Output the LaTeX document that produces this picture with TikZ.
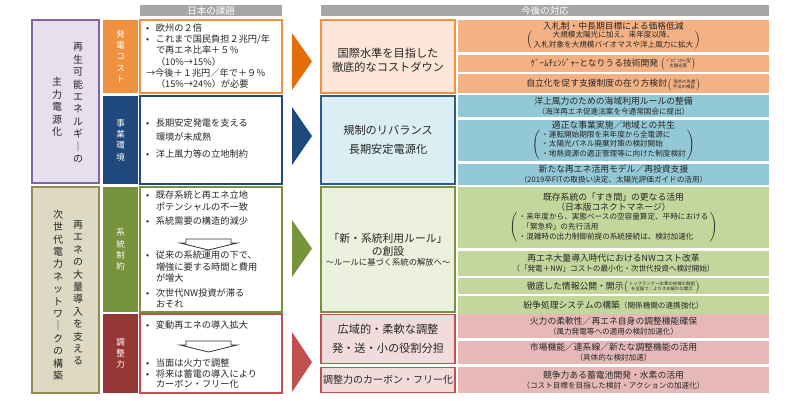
\documentclass[tikz,border=0pt]{standalone}
\usepackage{fontspec}
\setmainfont{Noto Sans CJK JP}
\usetikzlibrary{positioning}
\newcommand{\kakko}[2][l]{$\left(\begin{tabular}{@{\,}#1@{\,}}#2\end{tabular}\right)$}
\newcommand{\chuki}[1]{\raisebox{0.2ex}[0pt][0pt]{\fontsize{4.4}{4.8}\selectfont\renewcommand{\arraystretch}{0.9}\kakko[c]{#1}}}
\newcommand{\bulletpt}{\makebox[10pt][l]{•}}
\newcommand{\indentpt}{\hspace*{10pt}}
\begin{document}
\begin{tikzpicture}[x=1pt,y=-1pt]
    \definecolor{head-color}{HTML}{A6A6A6}
    \definecolor{shuryoku-color}{HTML}{8064A2}
    \definecolor{shuryoku-fill}{HTML}{E5E0EC}
    \definecolor{jisedai-color}{HTML}{948A54}
    \definecolor{jisedai-fill}{HTML}{DDD9C3}
    \definecolor{cost-color}{HTML}{F0913F}
    \definecolor{cost-arrow}{HTML}{E46C0A}
    \definecolor{cost-light}{HTML}{FCE6D8}
    \definecolor{cost-row}{HTML}{F4B183}
    \definecolor{kankyo-color}{HTML}{1F497D}
    \definecolor{kankyo-border}{HTML}{2E5B8E}
    \definecolor{kankyo-light}{HTML}{DAEEF3}
    \definecolor{kankyo-row}{HTML}{93C8D6}
    \definecolor{seiyaku-color}{HTML}{77933C}
    \definecolor{seiyaku-light}{HTML}{EBF1DE}
    \definecolor{seiyaku-row}{HTML}{C3D69B}
    \definecolor{chosei-color}{HTML}{953735}
    \definecolor{chosei-arrow}{HTML}{C0504D}
    \definecolor{chosei-light}{HTML}{F2DCDB}
    \definecolor{chosei-row}{HTML}{E6B9B8}
    \tikzstyle{every node}=[inner sep=0pt, outer sep=0pt, text=black!85, font=\fontsize{9}{11.3}\selectfont]
    \tikzstyle{header} = [anchor=north west, fill=head-color, text=white, minimum height=11, font=\fontsize{9.5}{11}\selectfont]
    \tikzstyle{theme} = [anchor=north west, draw, line width=1.2pt, minimum width=67]
    \tikzstyle{tate} = [align=center, font=\fontsize{10}{12.4}\selectfont]
    \tikzstyle{cat} = [anchor=north west, minimum width=35, text=white, align=center, font=\fontsize{8.5}{11.2}\selectfont]
    \tikzstyle{issue} = [anchor=north west, draw, line width=1.2pt, fill=white, minimum width=142]
    \tikzstyle{issuetext} = [anchor=north west, align=left, font=\fontsize{9.2}{11.3}\selectfont]
    \tikzstyle{down} = [draw=black!80, line width=0.8pt, fill=white]
    \tikzstyle{policy} = [anchor=north west, draw, line width=1.2pt, minimum width=134, align=center, font=\fontsize{11.2}{14}\selectfont]
    \tikzstyle{row} = [anchor=north west, minimum width=311, align=center, font=\fontsize{8.8}{10}\selectfont]
    \useasboundingbox (0,0) rectangle (800,400);

        \node (hdr-kadai) [header, minimum width=142] at (140,5) {日本の課題};
        \node (hdr-taiou) [header, minimum width=448] at (321,5) {今後の対応};

        \node (shuryoku) [theme, draw=shuryoku-color, fill=shuryoku-fill, minimum height=163] at (32,20) {};
        \node (shuryoku-a) [tate] at (78,103) {再\\生\\可\\能\\エ\\ネ\\ル\\ギ\\｜\\の};
        \node (shuryoku-b) [tate] at (57,107) {主\\力\\電\\源\\化};
        \node (jisedai) [theme, draw=jisedai-color, fill=jisedai-fill, minimum height=206] at (32,187) {};
        \node (jisedai-a) [tate] at (78,293) {再\\エ\\ネ\\の\\大\\量\\導\\入\\を\\支\\え\\る};
        \node (jisedai-b) [tate] at (58,295) {次\\世\\代\\電\\力\\ネ\\ッ\\ト\\ワ\\｜\\ク\\の\\構\\築};

        \node (cat-cost) [cat, fill=cost-color, minimum height=73] at (103,20) {発\\電\\コ\\ス\\ト};
        \node (cat-kankyo) [cat, fill=kankyo-color, minimum height=88] at (103,96) {事\\業\\環\\境};
        \node (cat-seiyaku) [cat, fill=seiyaku-color, minimum height=125] at (103,187) {系\\統\\制\\約};
        \node (cat-chosei) [cat, fill=chosei-color, minimum height=79] at (103,314) {調\\整\\力};

        \node (issue-cost) [issue, draw=cost-color, minimum height=73] at (140,20) {};
        \node (issue-cost-txt) [issuetext] at (146,23.5) {\bulletpt 欧州の２倍\\\bulletpt これまで国民負担２兆円/年\\\indentpt で再エネ比率＋５％\\\indentpt （10\%→15\%）\\→今後＋１兆円／年で＋９％\\\indentpt （15\%→24\%）が必要};
        \node (issue-kankyo) [issue, draw=kankyo-color, minimum height=88] at (140,96) {};
        \node (issue-kankyo-txt) [issuetext, font=\fontsize{9.2}{14}\selectfont] at (146,119) {\bulletpt 長期安定発電を支える\\\indentpt 環境が未成熟\\[3pt]\bulletpt 洋上風力等の立地制約};
        \node (issue-seiyaku) [issue, draw=seiyaku-color, minimum height=125] at (140,187) {};
        \node (issue-seiyaku-txt1) [issuetext, font=\fontsize{9.2}{12}\selectfont] at (146,191) {\bulletpt 既存系統と再エネ立地\\\indentpt ポテンシャルの不一致\\[2pt]\bulletpt 系統需要の構造的減少};
        \draw[down] (186,239) -- (231,239) -- (231,243) -- (237,243) -- (208.5,250) -- (180,243) -- (186,243) -- cycle;
        \node (issue-seiyaku-txt2) [issuetext] at (146,251) {\bulletpt 従来の系統運用の下で、\\\indentpt 増強に要する時間と費用\\\indentpt が増大\\[4pt]\bulletpt 次世代NW投資が滞る\\\indentpt おそれ};
        \node (issue-chosei) [issue, draw=chosei-arrow, minimum height=79] at (140,314) {};
        \node (issue-chosei-txt1) [issuetext] at (146,321) {\bulletpt 変動再エネの導入拡大};
        \draw[down] (186,341) -- (231,341) -- (231,345) -- (237,345) -- (208.5,352) -- (180,345) -- (186,345) -- cycle;
        \node (issue-chosei-txt2) [issuetext, font=\fontsize{9.2}{10.8}\selectfont] at (146,358.5) {\bulletpt 当面は火力で調整\\\bulletpt 将来は蓄電の導入により\\\indentpt カーボン・フリー化};

        \fill[cost-arrow] (292,33) -- (312,61.5) -- (292,90) -- cycle;
        \fill[kankyo-color] (292,107) -- (312,136) -- (292,165) -- cycle;
        \fill[seiyaku-color] (292,220) -- (312,248.5) -- (292,277) -- cycle;
        \fill[chosei-arrow] (292,332) -- (312,362) -- (292,392) -- cycle;

        \node (policy-cost) [policy, draw=cost-color, fill=cost-light, minimum height=73] at (321,20) {};
        \node (policy-cost-txt) [align=center, font=\fontsize{11.2}{14}\selectfont] at (388,60) {国際水準を目指した\\徹底的なコストダウン};
        \node (policy-kankyo) [policy, draw=kankyo-border, fill=kankyo-light, minimum height=88, font=\fontsize{11.2}{19}\selectfont] at (321,96) {規制のリバランス\\長期安定電源化};
        \node (policy-seiyaku) [policy, draw=seiyaku-color, fill=seiyaku-light, minimum height=125, font=\fontsize{10.8}{13}\selectfont] at (321,187) {「新・系統利用ルール」\\の創設\\[-3pt]{\fontsize{8.3}{10}\selectfont ～ルールに基づく系統の解放へ～}};
        \node (policy-chosei1) [policy, draw=chosei-arrow, fill=chosei-light, minimum height=49, font=\fontsize{11.2}{19}\selectfont] at (321,314.5) {広域的・柔軟な調整\\発・送・小の役割分担};
        \node (policy-chosei2) [policy, draw=chosei-arrow, fill=chosei-light, minimum height=25, font=\fontsize{10}{12}\selectfont] at (321,367.5) {調整力のカーボン・フリー化};

        \node (row-cost1) [row, fill=cost-row, minimum height=32] at (458,20) {入札制・中長期目標による価格低減\\{\fontsize{7.6}{9.3}\selectfont\kakko[c]{大規模太陽光に加え、来年度以降、\\入札対象を大規模バイオマスや洋上風力に拡大}}};
        \node (row-cost2) [row, fill=cost-row, minimum height=17, below=2.5pt of row-cost1] {ｹﾞｰﾑﾁｪﾝｼﾞｬｰとなりうる技術開発 \chuki{\ ﾍﾟﾛﾌﾞｽｶｲﾄ型\ \\太陽光等}};
        \node (row-cost3) [row, fill=cost-row, minimum height=19, below=2.5pt of row-cost2] {自立化を促す支援制度の在り方検討\chuki{\ 海外の先進\ \\手法の検証}};

        \node (row-kankyo1) [row, fill=kankyo-row, minimum height=22] at (458,95) {洋上風力のための海域利用ルールの整備\\{\fontsize{7.6}{9.3}\selectfont （海洋再エネ促進法案を今通常国会に提出）}};
        \node (row-kankyo2) [row, fill=kankyo-row, minimum height=41.5, below=2.5pt of row-kankyo1] {適正な事業実施／地域との共生\\{\fontsize{7.6}{9.6}\selectfont\kakko{・運転開始期限を来年度から全電源に\\・太陽光パネル廃棄対策の検討開始\\・地熱資源の適正管理等に向けた制度検討}}};
        \node (row-kankyo3) [row, fill=kankyo-row, minimum height=21, below=2.5pt of row-kankyo2] {新たな再エネ活用モデル／再投資支援\\{\fontsize{7.6}{9.3}\selectfont （2019卒FITの取扱い決定、太陽光評価ガイドの活用）}};

        \node (row-seiyaku1) [row, fill=seiyaku-row, minimum height=61] at (458,187) {既存系統の「すき間」の更なる活用\\（日本版コネクトマネージ）\\{\fontsize{7.6}{10}\selectfont\kakko{・来年度から、実態ベースの空容量算定、平時における\\\hspace*{0.5em}「緊急枠」の先行活用\\・混雑時の出力制御前提の系統接続は、検討加速化}}};
        \node (row-seiyaku2) [row, fill=seiyaku-row, minimum height=25, below=2.5pt of row-seiyaku1] {再エネ大量導入時代におけるNWコスト改革\\{\fontsize{7.6}{9.6}\selectfont （「発電＋NW」コストの最小化・次世代投資へ検討開始）}};
        \node (row-seiyaku3) [row, fill=seiyaku-row, minimum height=15.5, below=2.5pt of row-seiyaku2] {徹底した情報公開・開示\chuki{トップランナー水準の地域の取組\\を全国で／よりきめ細かな開示}};
        \node (row-seiyaku4) [row, fill=seiyaku-row, minimum height=17.5, below=2.5pt of row-seiyaku3] {紛争処理システムの構築{\fontsize{7.6}{9.3}\selectfont （関係機関の連携強化）}};

        \node (row-chosei1) [row, fill=chosei-row, minimum height=24] at (458,314) {火力の柔軟性／再エネ自身の調整機能確保\\{\fontsize{7.6}{9.3}\selectfont （風力発電等への適用の検討加速化）}};
        \node (row-chosei2) [row, fill=chosei-row, minimum height=23.5, below=2.5pt of row-chosei1] {市場機能／連系線／新たな調整機能の活用\\{\fontsize{7.6}{9.3}\selectfont （具体的な検討加速）}};
        \node (row-chosei3) [row, fill=chosei-row, minimum height=26.5, below=2.5pt of row-chosei2] {競争力ある蓄電池開発・水素の活用\\{\fontsize{7.6}{9.3}\selectfont （コスト目標を目指した検討・アクションの加速化）}};
\end{tikzpicture}
\end{document}
